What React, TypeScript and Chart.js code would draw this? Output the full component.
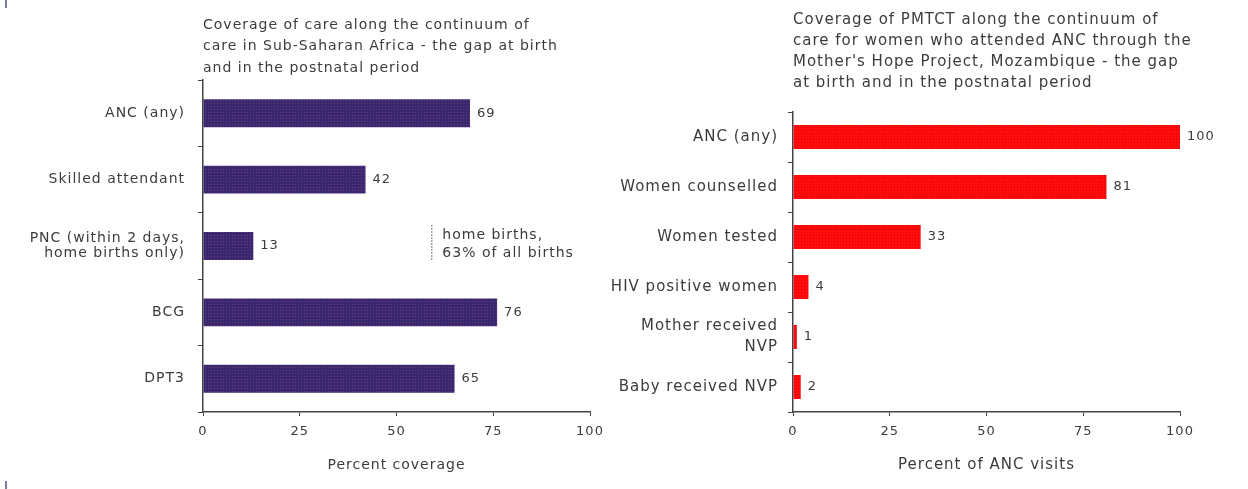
import React, { useEffect, useRef } from "react";
import { Chart, registerables } from "chart.js";
Chart.register(...registerables);

const leftCategories: (string | string[])[] = [
  "ANC (any)",
  "Skilled attendant",
  ["PNC (within 2 days,", "home births only)"],
  "BCG",
  "DPT3",
];
const leftValues = [69, 42, 13, 76, 65];
const rightCategories: (string | string[])[] = [
  "ANC (any)",
  "Women counselled",
  "Women tested",
  "HIV positive women",
  ["Mother received", "NVP"],
  "Baby received NVP",
];
const rightValues = [100, 81, 33, 4, 1, 2];
const xTicks = [0, 25, 50, 75, 100];
const leftTitle = [
  "Coverage of care along the continuum of",
  "care in Sub-Saharan Africa - the gap at birth",
  "and in the postnatal period",
];
const rightTitle = [
  "Coverage of PMTCT along the continuum of",
  "care for women who attended ANC through the",
  "Mother's Hope Project, Mozambique - the gap",
  "at birth and in the postnatal period",
];
const leftAxisTitle = "Percent coverage";
const rightAxisTitle = "Percent of ANC visits";
const noteLines = ["home births,", "63% of all births"];
const noteValue = 59;
const noteCategory = 2;

const FAMILY = "'DejaVu Sans', sans-serif";
const TEXT = "#3c3c3c";
const AXIS = "#444";

function makePattern(base: string, dot: string) {
  const c = document.createElement("canvas");
  c.width = 3;
  c.height = 3;
  const g = c.getContext("2d")!;
  g.fillStyle = base;
  g.fillRect(0, 0, 3, 3);
  g.fillStyle = dot;
  g.fillRect(1, 1, 1, 1);
  const ctx = document.createElement("canvas").getContext("2d")!;
  return ctx.createPattern(c, "repeat")!;
}

const spacing = {
  id: "spacing",
  beforeLayout(chart: any) {
    (chart.ctx as any).letterSpacing = "1px";
  },
  beforeDraw(chart: any) {
    (chart.ctx as any).letterSpacing = "1px";
  },
};

const valueLabels = {
  id: "valueLabels",
  afterDatasetsDraw(chart: any, _a: any, opts: any) {
    const ctx = chart.ctx;
    const meta = chart.getDatasetMeta(0);
    ctx.save();
    ctx.font = opts.font;
    ctx.fillStyle = opts.color;
    ctx.textAlign = "left";
    ctx.textBaseline = "middle";
    meta.data.forEach((bar: any, i: number) => {
      const v = chart.data.datasets[0].data[i];
      ctx.fillText(String(v), bar.x + opts.gap, bar.y);
    });
    ctx.restore();
  },
};

const titleBlock = {
  id: "titleBlock",
  afterDraw(chart: any, _a: any, opts: any) {
    if (!opts.lines) return;
    const ctx = chart.ctx;
    ctx.save();
    ctx.font = opts.font;
    ctx.fillStyle = opts.color;
    ctx.textAlign = "left";
    ctx.textBaseline = "middle";
    opts.lines.forEach((l: string, i: number) => {
      ctx.fillText(l, chart.chartArea.left, opts.firstY + i * opts.gap);
    });
    ctx.restore();
  },
};

const notePlugin = {
  id: "notePlugin",
  afterDraw(chart: any, _a: any, opts: any) {
    if (!opts.lines) return;
    const ctx = chart.ctx;
    const x = chart.scales.x.getPixelForValue(opts.value);
    const cy = chart.scales.y.getPixelForValue(opts.category);
    ctx.save();
    ctx.strokeStyle = "#777";
    ctx.lineWidth = 1;
    ctx.setLineDash([2, 1]);
    ctx.beginPath();
    ctx.moveTo(x + 0.5, cy - 21);
    ctx.lineTo(x + 0.5, cy + 14);
    ctx.stroke();
    ctx.setLineDash([]);
    ctx.font = opts.font;
    ctx.fillStyle = opts.color;
    ctx.textAlign = "left";
    ctx.textBaseline = "middle";
    opts.lines.forEach((l: string, i: number) => {
      ctx.fillText(l, x + 11, cy - 11 + i * 18);
    });
    ctx.restore();
  },
};

function buildConfig(p: {
  labels: (string | string[])[];
  values: number[];
  color: any;
  barPct: number;
  padTop: number;
  padRight: number;
  yWidth: number;
  labelLH: number;
  labelSize: number;
  labelPad: number;
  axisTitle: string;
  axisSize: number;
  title: string[];
  titleFirstY: number;
  titleGap: number;
  titleSize: number;
  note?: boolean;
}) {
  return {
    type: "bar" as const,
    data: {
      labels: p.labels,
      datasets: [
        {
          data: p.values,
          backgroundColor: p.color,
          borderWidth: 0,
          barPercentage: p.barPct,
          categoryPercentage: 1,
        },
      ],
    },
    plugins: [spacing, valueLabels, titleBlock, notePlugin],
    options: {
      indexAxis: "y" as const,
      animation: false as const,
      responsive: false,
      maintainAspectRatio: false,
      devicePixelRatio: 1,
      layout: { padding: { top: p.padTop, right: p.padRight, left: 0, bottom: 0 } },
      plugins: {
        legend: { display: false },
        tooltip: { enabled: false },
        title: { display: false },
        valueLabels: { font: `13px ${FAMILY}`, color: TEXT, gap: 7 },
        titleBlock: {
          lines: p.title,
          font: `${p.titleSize}px ${FAMILY}`,
          color: TEXT,
          firstY: p.titleFirstY,
          gap: p.titleGap,
        },
        notePlugin: p.note
          ? {
              lines: noteLines,
              value: noteValue,
              category: noteCategory,
              font: `14px ${FAMILY}`,
              color: TEXT,
            }
          : { lines: null },
      },
      scales: {
        x: {
          type: "linear" as const,
          min: 0,
          max: 100,
          afterBuildTicks: (s: any) => {
            s.ticks = xTicks.map((v) => ({ value: v }));
          },
          afterFit: (s: any) => {
            s.height = 77;
          },
          grid: { drawOnChartArea: false, drawTicks: true, tickLength: 4, color: AXIS },
          border: { display: true, color: AXIS, width: 1.5, dash: [2, 1] },
          ticks: { padding: 8, color: TEXT, font: { family: FAMILY, size: 13 } },
          title: {
            display: true,
            text: p.axisTitle,
            color: TEXT,
            font: { family: FAMILY, size: p.axisSize },
            padding: { top: 0, bottom: 15 },
          },
        },
        y: {
          type: "category" as const,
          afterFit: (s: any) => {
            s.width = p.yWidth;
          },
          grid: { drawOnChartArea: false, drawTicks: true, tickLength: 5, color: AXIS, offset: true },
          border: { display: true, color: AXIS, width: 1.5, dash: [2, 1] },
          ticks: {
            padding: p.labelPad,
            color: TEXT,
            font: { family: FAMILY, size: p.labelSize, lineHeight: p.labelLH },
          },
        },
      },
    },
  };
}

export default function App() {
  const leftRef = useRef<HTMLCanvasElement>(null);
  const rightRef = useRef<HTMLCanvasElement>(null);

  useEffect(() => {
    const purple = makePattern("#37286f", "#7b3577");
    const red = makePattern("#ff0d0d", "#d80000");
    const left = new Chart(
      leftRef.current!,
      buildConfig({
        labels: leftCategories,
        values: leftValues,
        color: purple,
        barPct: 0.42,
        padTop: 80,
        padRight: 30,
        yWidth: 203,
        labelLH: 1.1,
        labelSize: 14,
        labelPad: 13,
        axisTitle: leftAxisTitle,
        axisSize: 14,
        title: leftTitle,
        titleFirstY: 25,
        titleGap: 21.5,
        titleSize: 14,
        note: true,
      }) as any
    );
    const right = new Chart(
      rightRef.current!,
      buildConfig({
        labels: rightCategories,
        values: rightValues,
        color: red,
        barPct: 0.48,
        padTop: 112,
        padRight: 68,
        yWidth: 203,
        labelLH: 1.4,
        labelSize: 15,
        labelPad: 10,
        axisTitle: rightAxisTitle,
        axisSize: 15,
        title: rightTitle,
        titleFirstY: 20,
        titleGap: 21,
        titleSize: 15,
      }) as any
    );
    return () => {
      left.destroy();
      right.destroy();
    };
  }, []);

  return (
    <div
      style={{
        position: "fixed",
        left: 0,
        top: 0,
        width: 1248,
        height: 489,
        background: "#fff",
        overflow: "hidden",
      }}
    >
      <div style={{ position: "absolute", left: 5, top: 0, width: 2, height: 8, background: "#7a7aa8" }} />
      <div style={{ position: "absolute", left: 5, top: 481, width: 2, height: 8, background: "#7a7aa8" }} />
      <canvas
        ref={leftRef}
        width={620}
        height={489}
        style={{ position: "absolute", left: 0, top: 0, width: 620, height: 489 }}
      />
      <canvas
        ref={rightRef}
        width={658}
        height={489}
        style={{ position: "absolute", left: 590, top: 0, width: 658, height: 489 }}
      />
    </div>
  );
}
